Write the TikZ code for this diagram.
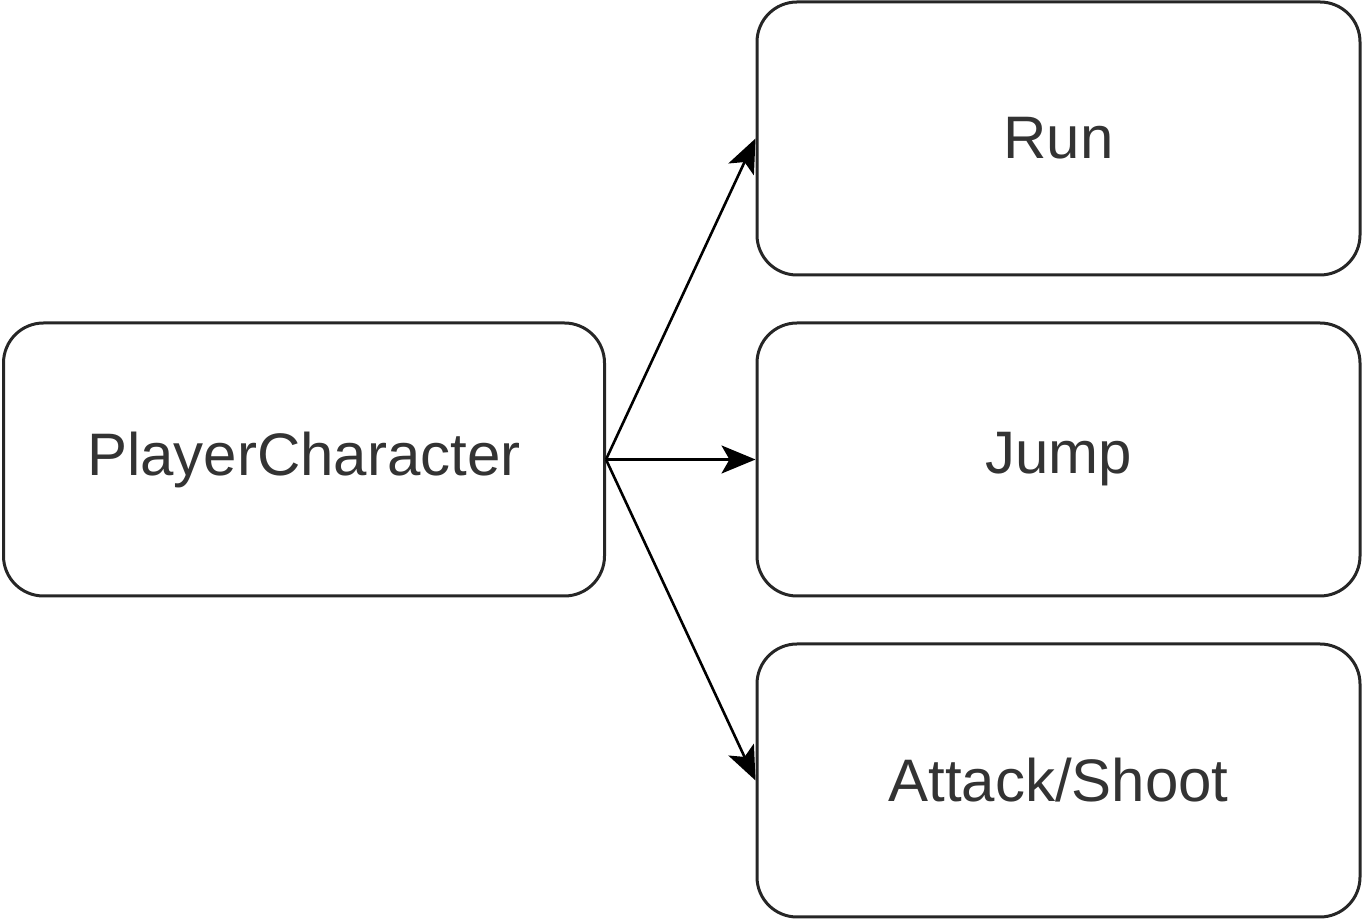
\documentclass[tikz,border=0pt]{standalone}
\usepackage{fontspec}
\setmainfont{Liberation Sans}
\usetikzlibrary{arrows.meta}
\begin{document}
\begin{tikzpicture}[x=1pt,y=1pt,
  box/.style={draw=black!85,line width=3pt,rounded corners=40pt,inner sep=0pt,
    minimum width=603pt,minimum height=273pt,font=\fontsize{60}{72}\selectfont,text=black!80},
  conn/.style={line width=2.6pt,-{Stealth[length=34pt,width=28pt,inset=8pt]}}]
\useasboundingbox (0,0) rectangle (1365,923);
\node[box,minimum width=601pt] (pc) at (304,463.5) {PlayerCharacter};
\node[box] (run) at (1058.5,784.5) {Run};
\node[box] (jump) at (1058.5,463.5) {Jump};
\node[box] (atk) at (1058.5,142.5) {Attack/Shoot};
\coordinate (s) at (pc.east);
\draw[conn] (s) -- (run.west);
\draw[conn] (s) -- (jump.west);
\draw[conn] (s) -- (atk.west);
\end{tikzpicture}
\end{document}
